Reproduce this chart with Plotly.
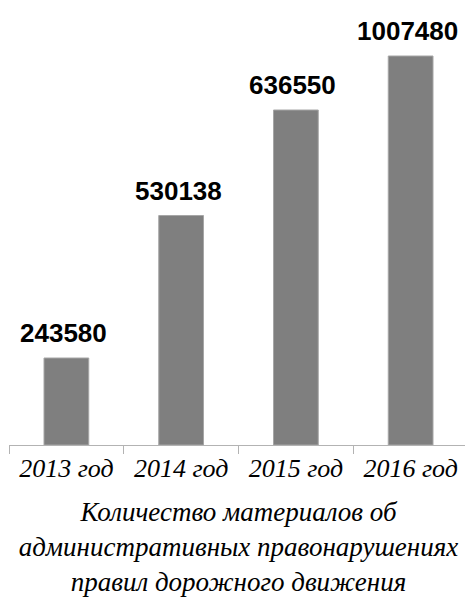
import plotly.graph_objects as go

years = ["2013 год", "2014 год", "2015 год", "2016 год"]
# values printed on the bars
labels = [243580, 530138, 636550, 1007480]
# bar heights as drawn in the picture (same units as labels)
heights = [225300, 594400, 867600, 1007480]

title = "Количество материалов об<br>административных правонарушениях<br>правил дорожного движения"

# page body has an 8px margin, so the figure is sized to the visible area
W, H = 465, 593

fig = go.Figure()
fig.add_trace(go.Bar(
    x=years,
    y=heights,
    marker=dict(color="#7f7f7f", line=dict(color="#a6a6a6", width=1)),
    width=0.39,
    hoverinfo="skip",
))

for yr, h, lab in zip(years, heights, labels):
    fig.add_annotation(
        x=yr, y=h, text=str(lab),
        showarrow=False, yanchor="bottom", yshift=8, xshift=-3,
        font=dict(family="Liberation Sans, Arial", size=26, color="#000000", weight="bold"),
    )

fig.update_layout(
    width=W,
    height=H,
    margin=dict(l=1, r=5, t=0, b=156, autoexpand=False),
    plot_bgcolor="white",
    paper_bgcolor="white",
    showlegend=False,
    title=dict(
        text=title,
        x=0.5, xanchor="center", xref="paper",
        y=1 - 513 / H, yanchor="top", yref="container",
        font=dict(family="Liberation Serif, Times New Roman", size=27, color="#000000", style="italic"),
    ),
    xaxis=dict(
        range=[-0.5, 3.5],
        showline=True, linecolor="#b3b3b3", linewidth=1,
        ticks="outside", tickson="boundaries", ticklen=8, tickcolor="#b3b3b3",
        showgrid=False, automargin=False,
        tickfont=dict(family="Liberation Serif, Times New Roman", size=26, color="#000000", style="italic"),
    ),
    yaxis=dict(
        range=[0, 1007480 * 437 / 389],
        visible=False,
        showgrid=False,
    ),
)

fig.write_html("out.html", config={"displayModeBar": False})
